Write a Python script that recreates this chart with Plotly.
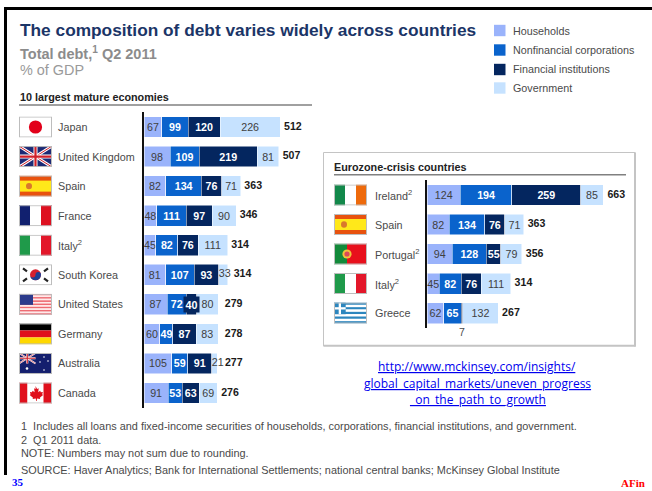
import base64
import plotly.graph_objects as go

W, H = 652, 491

# ---- data ----
series_names = ["Households", "Nonfinancial corporations", "Financial institutions", "Government"]
series_colors = ["#9AB3FB", "#0A63CC", "#04265F", "#C6E2FF"]
series_text = ["#404040", "#FFFFFF", "#FFFFFF", "#404040"]

mature_labels = ["Japan", "United Kingdom", "Spain", "France", "Italy<sup>2</sup>",
                 "South Korea", "United States", "Germany", "Australia", "Canada"]
mature_households = [67, 98, 82, 48, 45, 81, 87, 60, 105, 91]
mature_corporations = [99, 109, 134, 111, 82, 107, 72, 49, 59, 53]
mature_financial = [120, 219, 76, 97, 76, 93, 40, 87, 91, 63]
mature_government = [226, 81, 71, 90, 111, 33, 80, 83, 21, 69]
mature_totals = [512, 507, 363, 346, 314, 314, 279, 278, 277, 276]
mature_flags = ["jp", "uk", "es", "fr", "it", "kr", "us", "de", "au", "ca"]

crisis_labels = ["Ireland<sup>2</sup>", "Spain", "Portugal<sup>2</sup>", "Italy<sup>2</sup>", "Greece"]
crisis_households = [124, 82, 94, 45, 62]
crisis_corporations = [194, 134, 128, 82, 65]
crisis_financial = [259, 76, 55, 76, 7]
crisis_government = [85, 71, 79, 111, 132]
crisis_totals = [663, 363, 356, 314, 267]
crisis_flags = ["ie", "es", "pt", "it", "gr"]

footnotes = [
    ("1  Includes all loans and fixed-income securities of households, corporations, financial institutions, and government.", 426),
    ("2  Q1 2011 data.", 440),
    ("NOTE: Numbers may not sum due to rounding.", 453),
    ("SOURCE: Haver Analytics; Bank for International Settlements; national central banks; McKinsey Global Institute", 470),
]
link_lines = ["http://www.mckinsey.com/insights/", "global_capital_markets/uneven_progress", "_on_the_path_to_growth"]

SANS = "Liberation Sans, Arial, sans-serif"
SERIF = "Liberation Serif, Times New Roman, serif"
NAVY = "#1B3567"
GREY = "#8C8C8C"
DARK = "#4A4A4A"
SCALE = 0.266  # px per % of GDP

def px(x): return x / W
def py(y): return 1 - y / H

# ---- flags ----
def rects(*items):
    return "".join(f'<rect x="{x}" y="{y}" width="{w}" height="{h}" fill="{c}"/>' for x, y, w, h, c in items)

def union(bg="#1C2A75"):
    return (f'<rect width="33" height="21" fill="{bg}"/>')

def uk_lines(x0=0, y0=0, w=33, h=21, sw=1):
    x1, y1 = x0 + w, y0 + h
    mx, my = x0 + w / 2, y0 + h / 2
    return (f'<path d="M{x0} {y0}L{x1} {y1}M{x1} {y0}L{x0} {y1}" stroke="#fff" stroke-width="{3*sw}"/>'
            f'<path d="M{x0} {y0}L{x1} {y1}M{x1} {y0}L{x0} {y1}" stroke="#D0202A" stroke-width="{sw}"/>'
            f'<path d="M{mx} {y0}V{y1}M{x0} {my}H{x1}" stroke="#fff" stroke-width="{4*sw}"/>'
            f'<path d="M{mx} {y0}V{y1}M{x0} {my}H{x1}" stroke="#D0202A" stroke-width="{2.2*sw}"/>')

def us_stripes():
    out = ""
    for i in range(13):
        out += f'<rect x="0" y="{i*21/13:.2f}" width="33" height="{21/13+0.05:.2f}" fill="{"#EE6B72" if i % 2 == 0 else "#FFE9E9"}"/>'
    return out

def gr_stripes():
    out = ""
    for i in range(9):
        out += f'<rect x="0" y="{i*21/9:.2f}" width="33" height="{21/9+0.05:.2f}" fill="{"#2C86BE" if i % 2 == 0 else "#FFFFFF"}"/>'
    return out + rects((0, 0, 11.7, 11.7, "#2C86BE"), (4.7, 0, 2.3, 11.7, "#fff"), (0, 4.7, 11.7, 2.3, "#fff"))

stars = "".join(f'<circle cx="{x}" cy="{y}" r="{r}" fill="#fff"/>' for x, y, r in
                [(8, 15.5, 1.3), (25, 4, .8), (21, 9, .8), (29, 8, .8), (25, 17, .8)])

flag_art = {
    "jp": rects((0, 0, 33, 21, "#fff")) + '<circle cx="16.5" cy="10.5" r="6.6" fill="#E2001A"/>',
    "uk": union() + uk_lines(),
    "es": rects((0, 0, 33, 21, "#E8520E"), (0, 5, 33, 11, "#FFE81A")) + '<ellipse cx="10" cy="10.5" rx="3" ry="3.2" fill="#D9782C"/>',
    "fr": rects((0, 0, 11, 21, "#11206F"), (11, 0, 11, 21, "#fff"), (22, 0, 11, 21, "#DE1020")),
    "it": rects((0, 0, 11, 21, "#1F9A4A"), (11, 0, 11, 21, "#fff"), (22, 0, 11, 21, "#E3172A")),
    "kr": rects((0, 0, 33, 21, "#fff")) + '<circle cx="16.5" cy="10.5" r="5.5" fill="#D6202E"/><path d="M11 10.5a5.5 5.5 0 0 0 11 0a2.75 2.75 0 0 0-5.5 0a2.75 2.75 0 0 1-5.5 0z" fill="#1E3F93"/>'
          '<path d="M4 4L8 7M25 7L29 4M4 17L8 14M25 14L29 17" stroke="#222" stroke-width="2.2"/>',
    "us": us_stripes() + rects((0, 0, 14, 11, "#2C3A8C")),
    "de": rects((0, 0, 33, 7, "#000"), (0, 7, 33, 7, "#E0101C"), (0, 14, 33, 7, "#FFD800")),
    "au": union("#141F6E") + uk_lines(0, 0, 16.5, 10.5, .55) + stars,
    "ca": rects((0, 0, 8.5, 21, "#E0101C"), (8.5, 0, 16, 21, "#fff"), (24.5, 0, 8.5, 21, "#E0101C"))
          + '<path d="M16.5 3.5l1.6 3 1.6-.7-.5 4 2-1.6.6 1.5 2.1-.3-.7 2.4.9.6-3.3 2.7.4 1.3-3.2-.4-.3 2.5h-.6l-.3-2.5-3.2.4.4-1.3-3.3-2.7.9-.6-.7-2.4 2.1.3.6-1.5 2 1.6-.5-4 1.6.7z" fill="#E0101C"/>',
    "ie": rects((0, 0, 11, 21, "#12884A"), (11, 0, 11, 21, "#fff"), (22, 0, 11, 21, "#EE6A0C")),
    "pt": rects((0, 0, 13, 21, "#128A3A"), (13, 0, 20, 21, "#E8101C")) + '<circle cx="13" cy="10.5" r="4.6" fill="#EFC33A"/><circle cx="13" cy="10.5" r="2.6" fill="#D8485A"/>',
    "gr": gr_stripes(),
}

def flag_uri(code):
    svg = (f'<svg xmlns="http://www.w3.org/2000/svg" width="33" height="21" viewBox="0 0 33 21">{flag_art[code]}'
           f'<rect x=".5" y=".5" width="32" height="20" fill="none" stroke="#BDBDBD"/></svg>')
    return "data:image/svg+xml;base64," + base64.b64encode(svg.encode()).decode()

fig = go.Figure()
annotations, shapes, images = [], [], []

# gap in pixels between a bar's end and its total label
total_gap = {"South Korea": 6.2, "United States": 6.6, "Germany": 6.8, "Australia": 7.3}

# ---- panels ----
def add_panel(labels, values, totals, xa, ya):
    left = [0] * len(labels)
    for s, (name, vals, color, tcolor) in enumerate(zip(series_names, values, series_colors, series_text)):
        dark = tcolor == "#FFFFFF"
        # narrow segments get their label outside the stack's bar text
        txt = []
        for i, v in enumerate(vals):
            if v == 7:
                txt.append("")
            elif s == 3 and v < 40:
                txt.append("")
            elif s == 2 and v <= 40:
                txt.append("")
                annotations.append(dict(text=f"<b>{v}</b>", x=left[i] + v / 2, y=labels[i], xref=xa, yref=ya,
                                        showarrow=False, bgcolor=color, borderpad=1.5,
                                        font=dict(family=SANS, size=10.7, color=tcolor)))
            else:
                txt.append(str(v))
        fig.add_trace(go.Bar(
            y=labels, x=vals, orientation="h", name=name, xaxis=xa, yaxis=ya,
            marker=dict(color=color, line=dict(color="#FFFFFF", width=0.5)),
            text=txt, textposition="inside", insidetextanchor="middle", textangle=0,
            constraintext="none", cliponaxis=False,
            textfont=dict(family=SANS, size=10.7, color=tcolor, weight="bold" if dark else "normal"),
            showlegend=False, hoverinfo="x+y+name",
        ))
        if s == 3:
            narrow = [i for i, v in enumerate(vals) if v < 40]
            if narrow:
                fig.add_trace(go.Scatter(
                    y=[labels[i] for i in narrow], x=[left[i] for i in narrow], mode="text", xaxis=xa, yaxis=ya,
                    text=[str(vals[i]) for i in narrow], textposition="middle right", cliponaxis=False,
                    showlegend=False, hoverinfo="skip", textfont=dict(family=SANS, size=10.7, color=tcolor),
                ))
        left = [a + b for a, b in zip(left, vals)]
    fig.add_trace(go.Scatter(
        y=labels, x=[t + total_gap.get(l, 3.8) / SCALE for l, t in zip(labels, totals)],
        mode="text", xaxis=xa, yaxis=ya, text=[str(t) for t in totals],
        textposition="middle right", cliponaxis=False, showlegend=False, hoverinfo="skip",
        textfont=dict(family=SANS, size=10.6, color="#1A1A1A", weight="bold"),
    ))

add_panel(mature_labels, [mature_households, mature_corporations, mature_financial, mature_government], mature_totals, "x", "y")
add_panel(crisis_labels, [crisis_households, crisis_corporations, crisis_financial, crisis_government], crisis_totals, "x2", "y2")

def text(t, x, y, size, color=DARK, family=SANS, bold=False, anchor="left"):
    annotations.append(dict(text=f"<b>{t}</b>" if bold else t, x=px(x), y=py(y), xref="paper", yref="paper",
                            xanchor=anchor, yanchor="middle", showarrow=False, align=anchor,
                            font=dict(family=family, size=size, color=color), borderpad=0, borderwidth=0))

def rect(x0, y0, x1, y1, fill=None, line=None, lw=0):
    shapes.append(dict(type="rect", xref="paper", yref="paper", x0=px(x0), x1=px(x1), y0=py(y0), y1=py(y1),
                       fillcolor=fill if fill else "rgba(0,0,0,0)",
                       line=dict(color=line if line else "rgba(0,0,0,0)", width=lw), layer="below"))

def row_labels(labels, flags, ya, label_x, flag_x, centers):
    for lab, code, c in zip(labels, flags, centers):
        annotations.append(dict(text=lab, x=px(label_x), xref="paper", xanchor="left", y=lab, yref=ya,
                                yanchor="middle", showarrow=False, align="left",
                                font=dict(family=SANS, size=10.8, color=DARK)))
        images.append(dict(source=flag_uri(code), xref="paper", yref="paper", x=px(flag_x), y=py(c - 10.5),
                           sizex=33 / W, sizey=21 / H, xanchor="left", yanchor="top", sizing="stretch", layer="above"))

STEP = 29.56
mature_centers = [127 + i * STEP for i in range(10)]
crisis_centers = [195 + i * 29.5 for i in range(5)]
row_labels(mature_labels, mature_flags, "y", 56, 19, mature_centers)
row_labels(crisis_labels, crisis_flags, "y2", 373, 334, crisis_centers)

# Greece financial small-value label
annotations.append(dict(text="7", x=crisis_households[4] + crisis_corporations[4] + 5, xref="x2", y="Greece", yref="y2",
                        yshift=-19, showarrow=False, font=dict(family=SANS, size=10.5, color=DARK)))

# frame
rect(4, 7, 7, 475, fill="#000000")
rect(4, 7, 652, 10, fill="#000000")

# titles
text("The composition of debt varies widely across countries", 19.5, 30, 17.3, NAVY, bold=True)
text("Total debt,<sup>1</sup> Q2 2011", 20, 53, 14.5, GREY, bold=True)
text("% of GDP", 20, 70, 14.4, "#9A9A9A")
text("10 largest mature economies", 20, 97, 10.8, "#222222", bold=True)
rect(19, 104.3, 312, 105.7, fill="#808080")

# legend
for name, color, y in zip(series_names, series_colors, [30.5, 50, 69.5, 88]):
    rect(494, y - 5.7, 505.5, y + 5.7, fill=color)
    text(name, 513, y, 10.75, DARK)

# inset box
rect(323.5, 152.5, 635, 346, fill="#FFFFFF", line="#C4C4C4", lw=1)
rect(323.5, 344.8, 636, 346.5, fill="#C4C4C4")
rect(634, 152.5, 636, 346.5, fill="#C4C4C4")
text("Eurozone-crisis countries", 334, 167, 10.8, "#222222", bold=True)
rect(334, 174, 626, 175.6, fill="#808080")

# link
for line, y in zip(link_lines, [366, 383, 399]):
    text(f"<u>{line}</u>", 477, y, 12, "#0000EE", family="Open Sans, sans-serif", anchor="center")

# footnotes
for line, y in footnotes:
    text(line, 20.5, y, 10.9, DARK)

text("35", 12, 482, 11, "#0000FF", family=SERIF, bold=True)
text("AFin", 621, 483, 11, "#FF0000", family=SERIF, bold=True)

def xaxis(x0, x1, anchor):
    return dict(domain=[px(x0), px(x1)], range=[0, (x1 - x0) / SCALE], visible=False, anchor=anchor, fixedrange=True)

def yaxis(cats, top, bottom, anchor):
    return dict(type="category", categoryorder="array", categoryarray=cats, range=[len(cats) - .5, -.5],
                domain=[py(bottom), py(top)], showticklabels=False, ticks="", showgrid=False, zeroline=False,
                showline=True, linecolor="#111111", linewidth=2, anchor=anchor, fixedrange=True)

fig.update_layout(
    width=W, height=H, autosize=False, margin=dict(l=0, r=0, t=0, b=0),
    paper_bgcolor="#FFFFFF", plot_bgcolor="rgba(0,0,0,0)", barmode="stack", bargap=0.3,
    showlegend=False,
    xaxis=xaxis(144, 320, "y"), yaxis=yaxis(mature_labels, 112.2, 407.8, "x"),
    xaxis2=xaxis(427.3, 640, "y2"), yaxis2=yaxis(crisis_labels, 180.2, 328, "x2"),
    annotations=annotations, shapes=shapes, images=images,
)

fig.write_html("out.html", config=dict(displayModeBar=False),
               post_script="document.documentElement.style.margin='0';document.body.style.margin='0';document.body.style.overflow='hidden';")
